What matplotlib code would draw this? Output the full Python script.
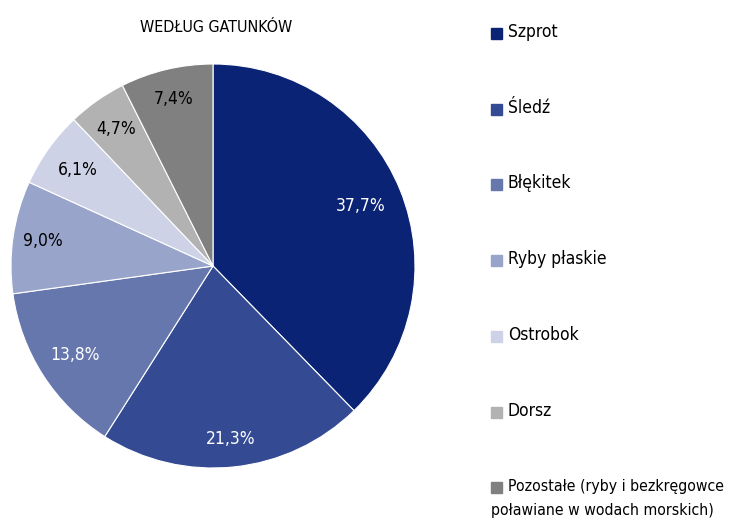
import matplotlib
matplotlib.use("Agg")
import matplotlib.pyplot as plt
import numpy as np
from matplotlib import font_manager
from matplotlib.patches import Rectangle

# data
species = ["Szprot", "Śledź", "Błękitek", "Ryby płaskie", "Ostrobok", "Dorsz",
           "Pozostałe (ryby i bezkręgowce\npoławiane w wodach morskich)"]
shares = [37.7, 21.3, 13.8, 9.0, 6.1, 4.7, 7.4]
colors = ["#0b2374", "#344b94", "#6677ae", "#99a4ca", "#cdd2e7", "#b2b2b2", "#808080"]
label_colors = ["white", "white", "white", "black", "black", "black", "black"]
label_dist = [0.79, 0.86, 0.81, 0.85, 0.82, 0.83, 0.85]
title = "WEDŁUG GATUNKÓW"

names = {f.name for f in font_manager.fontManager.ttflist}
if "Liberation Sans Narrow" in names:
    plt.rcParams["font.family"] = ["Liberation Sans Narrow", "DejaVu Sans"]
else:
    plt.rcParams["font.family"] = ["DejaVu Sans"]
    plt.rcParams["font.stretch"] = "condensed"

fig = plt.figure(figsize=(7.44, 5.27), dpi=100)
ax = fig.add_axes([11 / 744, 59 / 527, 404 / 744, 404 / 527])

labels_txt = [f"{v:.1f}%".replace(".", ",") for v in shares]
wedges, texts = ax.pie(shares, colors=colors, startangle=90, counterclock=False,
                       labels=labels_txt, labeldistance=0.82, radius=1,
                       wedgeprops=dict(edgecolor="white", linewidth=0.8),
                       textprops=dict(fontsize=12.5, ha="center", va="center"))
for w, t, c, d in zip(wedges, texts, label_colors, label_dist):
    ang = np.deg2rad((w.theta1 + w.theta2) / 2)
    t.set_position((d * np.cos(ang), d * np.sin(ang)))
    t.set_ha("center")
    t.set_color(c)
ax.set_xlim(-1, 1)
ax.set_ylim(-1, 1)
ax.set_aspect("equal")

fig.text(216 / 744, 1 - 28 / 527, title, ha="center", va="center", fontsize=11.5)

# legend drawn by hand to keep the wide row spacing
y0 = 33
step = 75.7
for i, (name, col) in enumerate(zip(species, colors)):
    y = y0 + i * step
    fig.patches.append(Rectangle((491 / 744, 1 - (y + 6) / 527), 11 / 744, 11 / 527,
                                 transform=fig.transFigure, color=col))
    lines = name.split("\n")
    fs = 12.5 if len(lines) == 1 else 11.3
    fig.text(508 / 744, 1 - (y - 1) / 527, lines[0], ha="left", va="center", fontsize=fs)
    if len(lines) > 1:
        fig.text(491 / 744, 1 - (y + 23) / 527, lines[1], ha="left", va="center", fontsize=fs)

fig.savefig("out.png", dpi=100)
